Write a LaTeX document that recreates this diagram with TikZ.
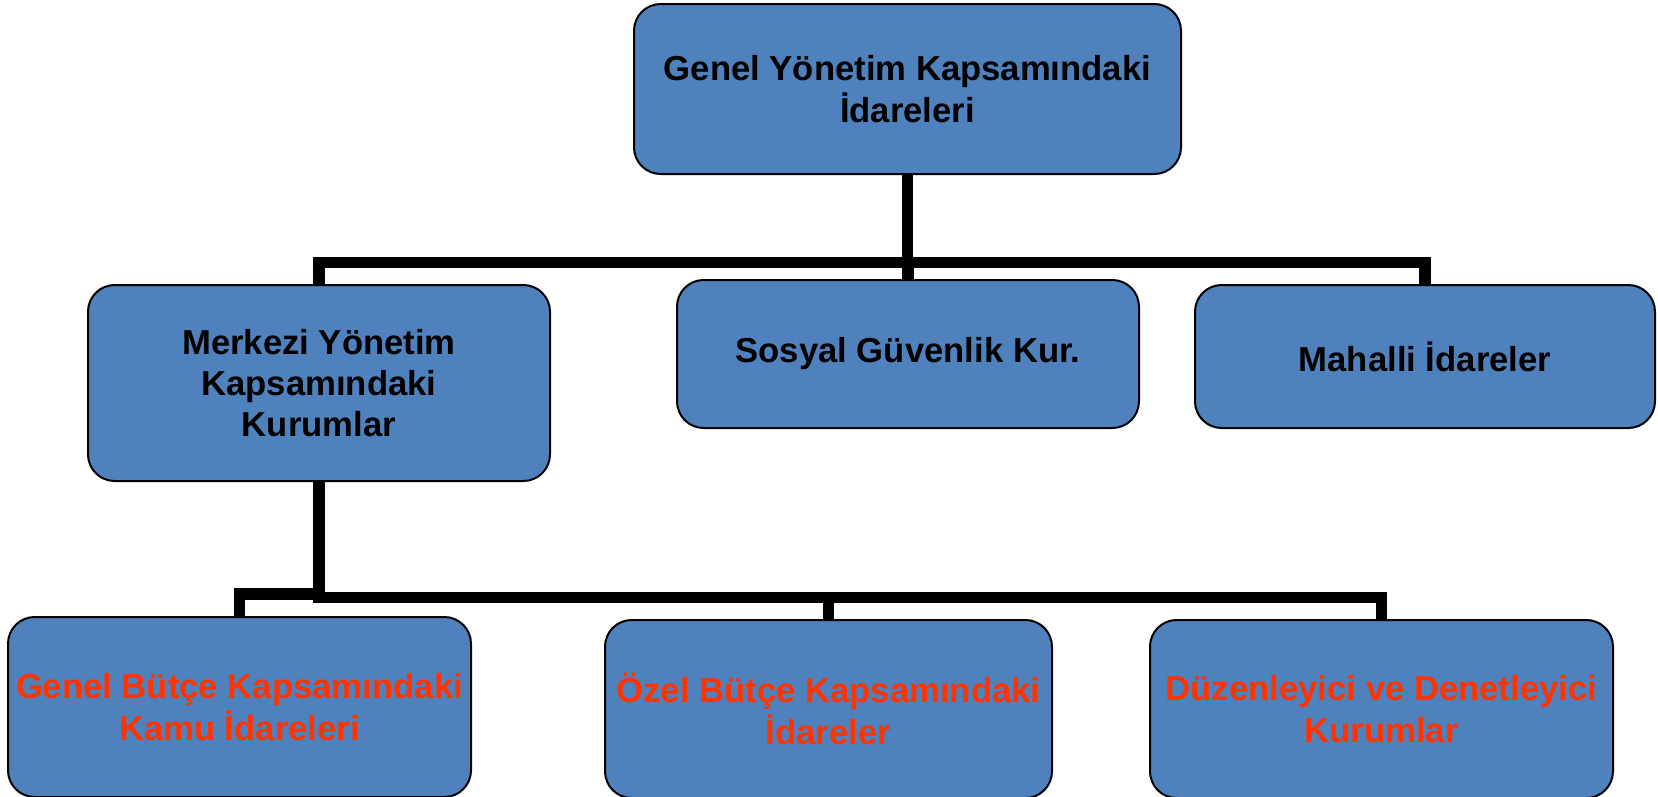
\documentclass[tikz,border=0pt]{standalone}
\usepackage{fontspec}
\setmainfont{Liberation Sans}
\usetikzlibrary{positioning}
\definecolor{boxblue}{HTML}{4F81BD}
\definecolor{orangered}{HTML}{FF3300}

\begin{document}
\begin{tikzpicture}[x=0.3pt, y=-0.3pt,
            box/.style = {draw, line width=0.6pt, fill=boxblue, rounded corners=8pt,
                          align=center, inner sep=0pt,
                          font=\fontsize{10.4}{12.4}\selectfont\bfseries},
            redtext/.style = {text=orangered},
            conn/.style = {line width=3.5pt, line join=miter, line cap=butt}
            ]
            \useasboundingbox (0,0) rectangle (1658,797);
            % nodes
            \node[box, minimum width=164.1pt, minimum height=51pt] (genelyonetim) at (907.5,89)
                {Genel Yönetim Kapsamındaki\\İdareleri};
            \node[box, minimum width=138.6pt, minimum height=58.8pt] (merkezi) at (319,383)
                {Merkezi Yönetim\\Kapsamındaki\\Kurumlar};
            \node[box, minimum width=138.6pt, minimum height=44.4pt] (sosyal) at (908,354)
                {Sosyal Güvenlik Kur.};
            \node[box, minimum width=138pt, minimum height=42.9pt] (mahalli) at (1425,356.5)
                {Mahalli İdareler};
            \node[box, redtext, minimum width=138.9pt, minimum height=54pt] (genelbutce) at (239.5,707)
                {Genel Bütçe Kapsamındaki\\Kamu İdareleri};
            \node[box, redtext, minimum width=134.1pt, minimum height=53.4pt] (ozelbutce) at (828.5,709)
                {Özel Bütçe Kapsamındaki\\İdareler};
            \node[box, redtext, minimum width=138.9pt, minimum height=53.4pt] (duzenleyici) at (1381.5,709)
                {Düzenleyici ve Denetleyici\\Kurumlar};
            % connectors
            \coordinate (bar1) at (0,262.5);
            \coordinate (bar2) at (0,597.5);
            \coordinate (bar2b) at (0,594);
            \draw[conn] (genelyonetim.south) -- (genelyonetim.south |- bar1);
            \draw[conn] (merkezi.north) -- (merkezi.north |- bar1) -- (mahalli.north |- bar1) -- (mahalli.north);
            \draw[conn] (sosyal.north) -- (sosyal.north |- bar1);
            \draw[conn] (merkezi.south) -- (merkezi.south |- bar2) -- (duzenleyici.north |- bar2) -- (duzenleyici.north);
            \draw[conn] (ozelbutce.north) -- (ozelbutce.north |- bar2);
            \draw[conn] (genelbutce.north) -- (genelbutce.north |- bar2b) -- (merkezi.south |- bar2b);
\end{tikzpicture}
\end{document}
